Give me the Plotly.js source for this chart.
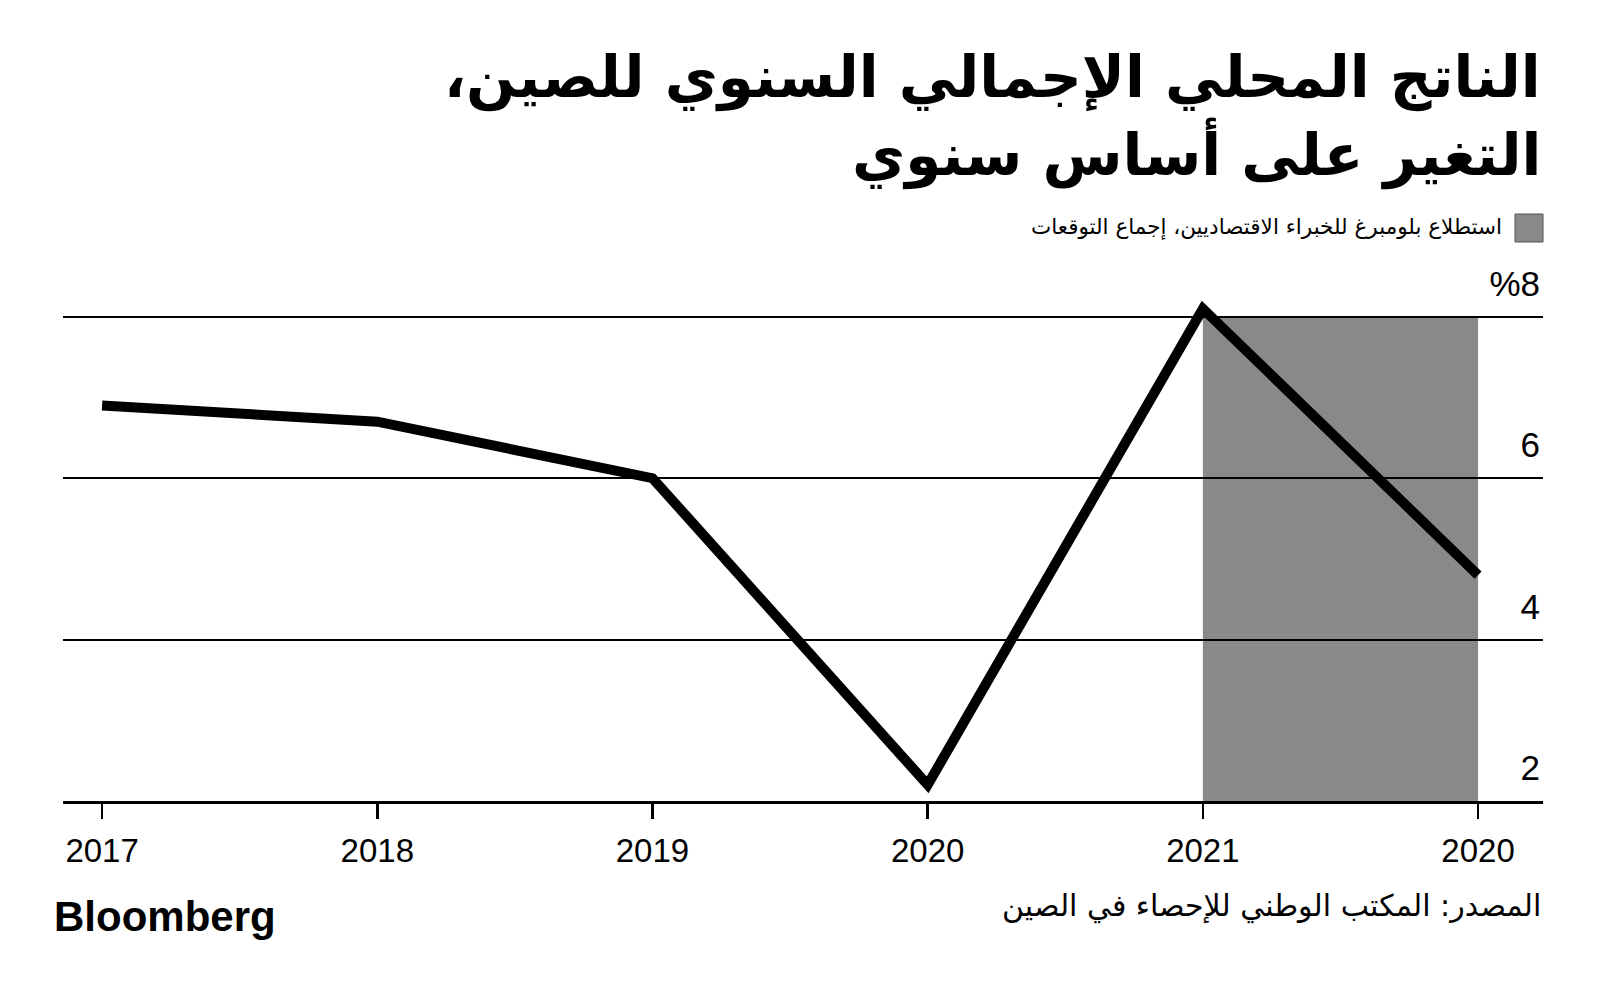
<!DOCTYPE html>
<html>
<head>
<meta charset="utf-8">
<script src="https://cdn.plot.ly/plotly-3.0.1.min.js"></script>
<style>html,body{margin:0;padding:0;background:#fff}#chart{width:1600px;height:996px}</style>
</head>
<body>
<div id="chart"></div>
<script>
// ---- data ----
const yearLabels = ["2017", "2018", "2019", "2020", "2021", "2020"];
const gdpGrowth = [6.9, 6.7, 6.0, 2.2, 8.1, 4.8];
const yTickVals = [2, 4, 6, 8];
const yTickText = ["2", "4", "6", "%8"];
const forecastFromLabelIndex = 4;   // shaded survey period starts at 2021
const forecastToLabelIndex = 5;     // ...and ends at last period
const titleLines = ["الناتج المحلي الإجمالي السنوي للصين،\u200F", "التغير على أساس سنوي"];
const legendText = "استطلاع بلومبرغ للخبراء الاقتصاديين، إجماع التوقعات";
const sourceText = "المصدر: المكتب الوطني للإحصاء في الصين";
const brandText = "Bloomberg";

const xIdx = yearLabels.map((_, i) => i);

const W = 1600, H = 996;
const plotL = 63, plotR = 1543, plotT = 250, plotB = 801;
const ph = plotB - plotT, pw = plotR - plotL;
const py = v => (plotB - v) / ph;
const pxp = v => (v - plotL) / pw;

const numFont = "Liberation Sans, Arial, sans-serif";
const arFont = "DejaVu Sans, Noto Sans, sans-serif";

const trace = {
  x: xIdx,
  y: gdpGrowth,
  type: "scatter",
  mode: "lines",
  line: { color: "#000", width: 10 },
  hoverinfo: "skip",
  showlegend: false
};

const titleY = [77, 153];

const layout = {
  width: W, height: H,
  paper_bgcolor: "#fff", plot_bgcolor: "#fff",
  margin: { l: plotL, r: W - plotR, t: plotT, b: H - plotB, pad: 0 },
  showlegend: false,
  xaxis: {
    range: [-0.142, 5.236],
    tickvals: xIdx,
    ticktext: yearLabels,
    showgrid: false, zeroline: false,
    showline: true, linecolor: "#000", linewidth: 3,
    ticks: "outside", ticklen: 15, tickwidth: 2.5, tickcolor: "#000",
    ticklabelstandoff: 3,
    tickfont: { family: numFont, size: 33, color: "#000" },
    fixedrange: true
  },
  yaxis: {
    range: [2, 2 + (plotB - plotT) / 80.7],
    tickvals: yTickVals,
    ticktext: yTickText,
    side: "right",
    ticklabelposition: "inside",
    ticklabelshift: -33,
    ticks: "",
    showgrid: true, gridcolor: "#000", gridwidth: 2,
    zeroline: false, showline: false,
    tickfont: { family: numFont, size: 35, color: "#000" },
    fixedrange: true
  },
  shapes: [
    {
      type: "rect", xref: "x", yref: "y", layer: "below",
      x0: xIdx[forecastFromLabelIndex], x1: xIdx[forecastToLabelIndex],
      y0: yTickVals[0], y1: yTickVals[yTickVals.length - 1],
      fillcolor: "#898989", line: { width: 0 }
    },
    {
      type: "rect", xref: "paper", yref: "paper",
      x0: pxp(1515), x1: pxp(1543), y0: py(242), y1: py(214),
      fillcolor: "#898989", line: { color: "#555", width: 1 }
    }
  ],
  annotations: [
    ...titleLines.map((t, i) => ({
      text: "<b>" + t + "</b>", xref: "paper", yref: "paper",
      x: 1, y: py(titleY[i]), xanchor: "right", yanchor: "middle",
      showarrow: false,
      font: { family: arFont, size: 58, color: "#000" }
    })),
    {
      text: legendText, xref: "paper", yref: "paper",
      x: pxp(1504), y: py(227), xanchor: "right", yanchor: "middle",
      showarrow: false,
      font: { family: arFont, size: 21.5, color: "#000" }
    },
    {
      text: sourceText, xref: "paper", yref: "paper",
      x: 1, y: py(906), xanchor: "right", yanchor: "middle",
      showarrow: false,
      font: { family: arFont, size: 30, color: "#000" }
    },
    {
      text: "<b>" + brandText + "</b>", xref: "paper", yref: "paper",
      x: pxp(52), y: py(916), xanchor: "left", yanchor: "middle",
      showarrow: false,
      font: { family: "Liberation Sans, Arial, sans-serif", size: 42, color: "#000" }
    }
  ]
};

Plotly.newPlot("chart", [trace], layout, { displayModeBar: false, staticPlot: true });
</script>
</body>
</html>
